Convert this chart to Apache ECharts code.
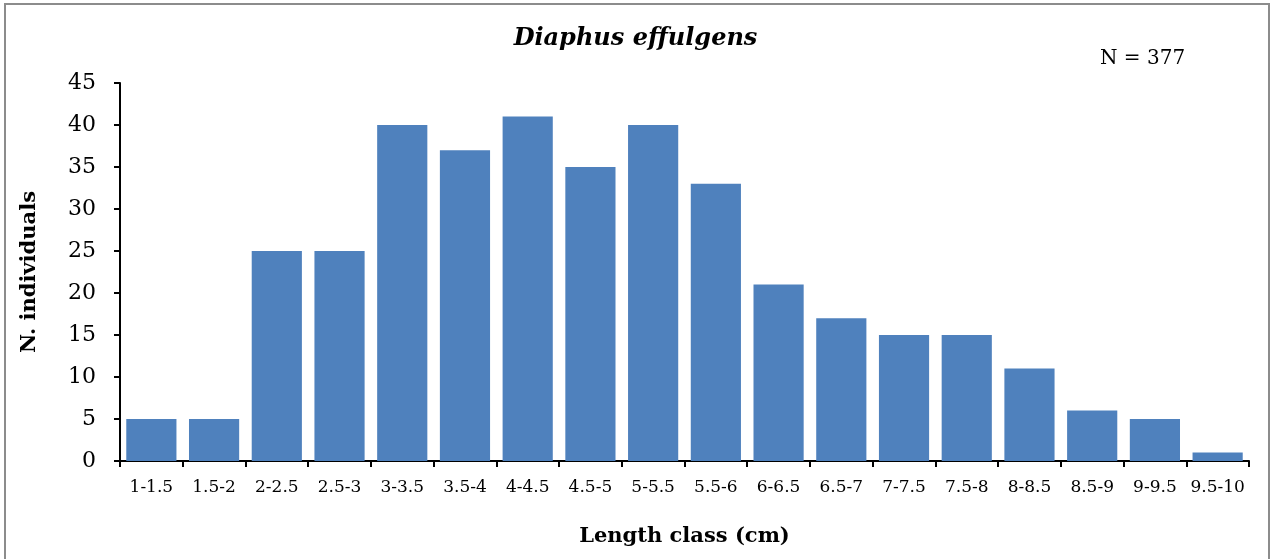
<!DOCTYPE html>
<html>
<head>
<meta charset="utf-8">
<style>
  html, body { margin: 0; padding: 0; background: #fff; }
  #chart { width: 1271px; height: 559px; }
</style>
<script src="https://cdn.jsdelivr.net/npm/echarts@6/dist/echarts.min.js"></script>
</head>
<body>
<div id="chart"></div>
<script>
// Length-frequency distribution of Diaphus effulgens
const lengthClasses = ['1-1.5', '1.5-2', '2-2.5', '2.5-3', '3-3.5', '3.5-4', '4-4.5', '4.5-5', '5-5.5',
  '5.5-6', '6-6.5', '6.5-7', '7-7.5', '7.5-8', '8-8.5', '8.5-9', '9-9.5', '9.5-10'];
const individuals = [5, 5, 25, 25, 40, 37, 41, 35, 40, 33, 21, 17, 15, 15, 11, 6, 5, 1];
const sampleSize = 'N = 377';

const serif = '"DejaVu Serif", "Liberation Serif", serif';
const chart = echarts.init(document.getElementById('chart'));

chart.setOption({
  animation: false,
  textStyle: { fontFamily: serif, color: '#000' },
  title: {
    text: 'Diaphus effulgens',
    left: 'center',
    top: 22,
    textStyle: { fontFamily: serif, fontSize: 24, fontWeight: 'bold', fontStyle: 'italic', color: '#000' }
  },
  graphic: [
    {
      type: 'rect',
      shape: { x: 5, y: 4, width: 1264, height: 600 },
      style: { fill: 'none', stroke: '#8c8c8c', lineWidth: 2 },
      silent: true
    },
    {
      type: 'text',
      left: 1100,
      top: 49,
      style: { text: sampleSize, font: '20px ' + serif, fill: '#000' }
    }
  ],
  grid: { left: 120, right: 22, top: 83, bottom: 98 },
  xAxis: {
    type: 'category',
    data: lengthClasses,
    name: 'Length class (cm)',
    nameLocation: 'middle',
    nameGap: 65,
    nameTextStyle: { fontFamily: serif, fontSize: 21, fontWeight: 'bold', color: '#000' },
    axisLine: { lineStyle: { color: '#000', width: 2 } },
    axisTick: { show: true, length: 6, lineStyle: { color: '#000', width: 2 } },
    axisLabel: { fontFamily: serif, fontSize: 17, color: '#000', margin: 18, interval: 0 }
  },
  yAxis: {
    type: 'value',
    min: 0,
    max: 45,
    interval: 5,
    name: 'N. individuals',
    nameLocation: 'middle',
    nameGap: 80,
    nameTextStyle: { fontFamily: serif, fontSize: 21, fontWeight: 'bold', color: '#000' },
    axisLine: { show: true, lineStyle: { color: '#000', width: 2 } },
    axisTick: { show: true, length: 6, lineStyle: { color: '#000', width: 2 } },
    axisLabel: { fontFamily: serif, fontSize: 22, color: '#000', margin: 24 },
    splitLine: { show: false }
  },
  series: [{
    type: 'bar',
    data: individuals,
    barCategoryGap: '20%',
    itemStyle: { color: '#4f81bd' }
  }]
});
</script>
</body>
</html>
